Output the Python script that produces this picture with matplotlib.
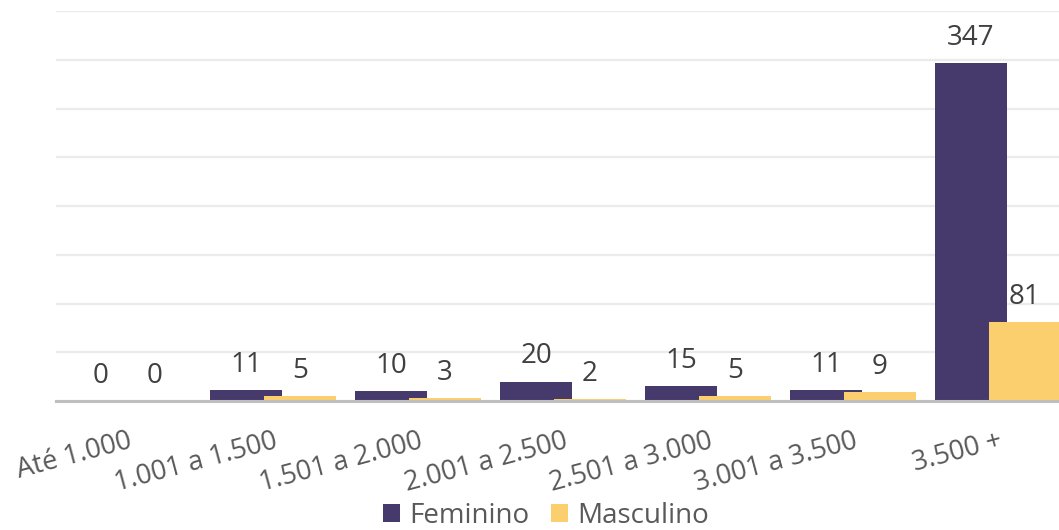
import numpy as np
import matplotlib
matplotlib.use("Agg")
import matplotlib.pyplot as plt

categorias = ["Até 1.000", "1.001 a 1.500", "1.501 a 2.000", "2.001 a 2.500",
              "2.501 a 3.000", "3.001 a 3.500", "3.500 +"]
feminino = [0, 11, 10, 20, 15, 11, 347]
masculino = [0, 5, 3, 2, 5, 9, 81]

cor_fem = "#463A6C"
cor_mas = "#FCCF6E"

plt.rcParams['font.family'] = ['Open Sans', 'DejaVu Sans']

fig = plt.figure(figsize=(10.59, 5.30), dpi=100)
ax = fig.add_axes([55.5 / 1059, 129 / 530, 1015 / 1059, 390 / 530])

x = np.arange(len(categorias))
largura = 72 / 145
desloc = 27 / 145

b1 = ax.bar(x - desloc, feminino, largura, color=cor_fem, label="Feminino", zorder=2)
b2 = ax.bar(x + desloc, masculino, largura, color=cor_mas, label="Masculino", zorder=3)

ax.bar_label(b1, padding=8, fontsize=20, color="#404040")
ax.bar_label(b2, padding=8, fontsize=20, color="#404040")

ax.set_xlim(-0.5, len(categorias) - 0.5)
ax.set_ylim(0, 400)
ax.set_yticks(np.arange(0, 401, 50))
ax.yaxis.grid(True, color="#EBEBEB", linewidth=1.6, zorder=0)
ax.set_axisbelow(True)
ax.tick_params(axis="y", left=False, labelleft=False)
ax.tick_params(axis="x", length=0, pad=19, labelsize=19.5, labelcolor="#595959")
ax.set_xticks(x)
ax.set_xticklabels(categorias, rotation=15, ha="right", rotation_mode="anchor")

for lado in ["top", "right", "left"]:
    ax.spines[lado].set_visible(False)
ax.spines["bottom"].set_color("#BFBFBF")
ax.spines["bottom"].set_linewidth(2.2)
ax.spines["bottom"].set_zorder(4)

fig.legend(loc="center", bbox_to_anchor=(546 / 1059, 14 / 530), ncol=2, frameon=False,
           fontsize=20, labelcolor="#595959", handlelength=0.6, handleheight=0.6,
           handletextpad=0.33, columnspacing=0.8, borderpad=0, borderaxespad=0)

fig.savefig("out.png", dpi=100)
